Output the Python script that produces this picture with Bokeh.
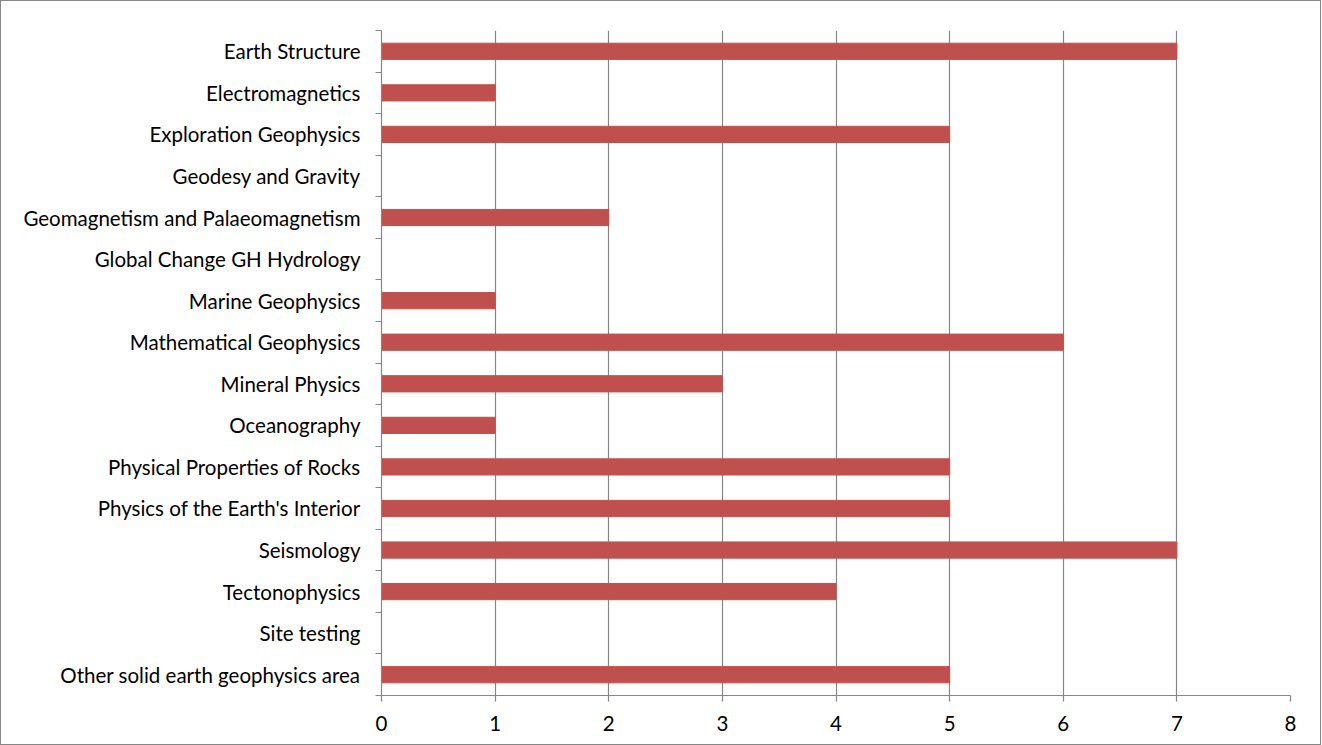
from bokeh.plotting import figure
from bokeh.models import Range1d, FixedTicker, ColumnDataSource
from bokeh.embed import file_html
from bokeh.resources import INLINE

categories = [
    "Earth Structure",
    "Electromagnetics",
    "Exploration Geophysics",
    "Geodesy and Gravity",
    "Geomagnetism and Palaeomagnetism",
    "Global Change GH Hydrology",
    "Marine Geophysics",
    "Mathematical Geophysics",
    "Mineral Physics",
    "Oceanography",
    "Physical Properties of Rocks",
    "Physics of the Earth's Interior",
    "Seismology",
    "Tectonophysics",
    "Site testing",
    "Other solid earth geophysics area",
]
values = [7, 1, 5, 0, 2, 0, 1, 6, 3, 1, 5, 5, 7, 4, 0, 5]
x_ticks = [0, 1, 2, 3, 4, 5, 6, 7, 8]

n = len(categories)
centers = [n - i - 0.5 for i in range(n)]
boundaries = list(range(n + 1))

FONT = "Lato"
FSIZE = "20.5px"
GRAY = "#868686"
BAR = "#C0504D"

src = ColumnDataSource(dict(y=centers, v=values, cat=categories))

p = figure(
    frame_width=909, frame_height=665,
    min_border_left=380, min_border_right=30, min_border_top=29, min_border_bottom=49,
    x_range=Range1d(0, 8), y_range=Range1d(0, n),
    output_backend="svg", toolbar_location=None,
)
p.styles = {"border": f"1px solid {GRAY}", "box-sizing": "border-box"}

p.hbar(y="y", left=0, right="v", height=0.39, source=src, color=BAR)

p.outline_line_color = None
p.ygrid.visible = False
p.xgrid.ticker = FixedTicker(ticks=x_ticks[1:])
p.xgrid.grid_line_color = GRAY
p.xgrid.grid_line_width = 1.2

xa = p.xaxis[0]
xa.ticker = FixedTicker(ticks=x_ticks)
xa.axis_line_color = GRAY
xa.axis_line_width = 1.2
xa.major_tick_line_color = GRAY
xa.major_tick_line_width = 1.2
xa.major_tick_out = 6
xa.major_tick_in = 0
xa.minor_tick_line_color = None
xa.major_label_text_font = FONT
xa.major_label_text_font_size = FSIZE
xa.major_label_text_color = "#000000"
xa.major_label_standoff = 14

ya = p.yaxis[0]
ya.ticker = FixedTicker(ticks=centers, minor_ticks=boundaries)
ya.major_label_overrides = {c: cat for c, cat in zip(centers, categories)}
ya.axis_line_color = GRAY
ya.axis_line_width = 1.2
ya.major_tick_line_color = None
ya.major_tick_out = 0
ya.major_tick_in = 0
ya.minor_tick_line_color = GRAY
ya.minor_tick_line_width = 1.2
ya.minor_tick_out = 6
ya.minor_tick_in = 0
ya.major_label_text_font = FONT
ya.major_label_text_font_size = FSIZE
ya.major_label_text_color = "#000000"
ya.major_label_standoff = 15

open("out.html", "w").write(file_html(p, INLINE))
